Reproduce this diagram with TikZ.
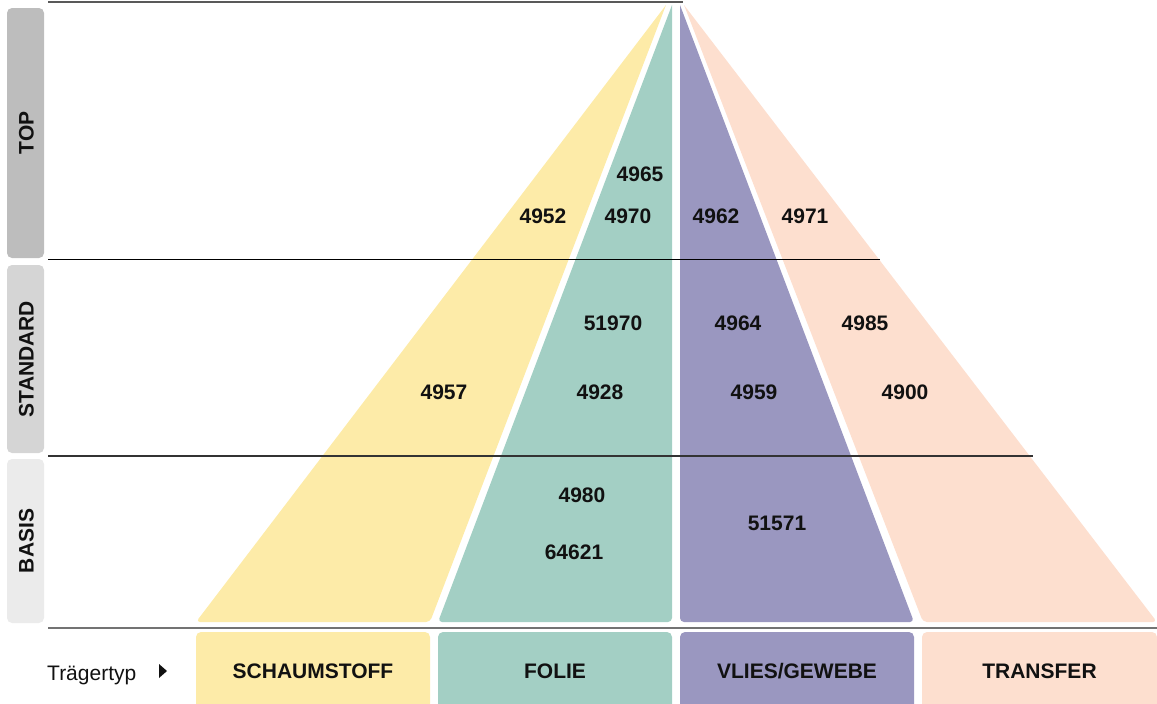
\documentclass[tikz,border=0pt]{standalone}
\usepackage{fontspec}
\setmainfont{Liberation Sans}
\usepackage{tikz}

\definecolor{schaum}{HTML}{FDEBA8}
\definecolor{folie}{HTML}{A3CFC4}
\definecolor{vlies}{HTML}{9A97C0}
\definecolor{transfer}{HTML}{FDDFCF}
\definecolor{lvTop}{HTML}{BDBDBD}
\definecolor{lvStd}{HTML}{D5D5D5}
\definecolor{lvBasis}{HTML}{EBEBEB}
\definecolor{ink}{HTML}{111111}

\begin{document}
\begin{tikzpicture}[x=1pt, y=-1pt,
    lbl/.style={font=\fontsize{21}{25}\selectfont\bfseries, text=ink, inner sep=0pt},
    lvl/.style={lbl, rotate=90}]
    \useasboundingbox (0,0) rectangle (1157,704);
    % Stufen links
    \fill[lvTop, rounded corners=5pt] (7,8) rectangle (44,258);
    \fill[lvStd, rounded corners=5pt] (7,265) rectangle (44,453);
    \fill[lvBasis, rounded corners=5pt] (7,459) rectangle (44,623);
    \node[lvl] (top) at (26.5,133) {TOP};
    \node[lvl] (standard) at (26.5,359) {STANDARD};
    \node[lvl] (basis) at (26.5,541) {BASIS};
    % Pyramide
    \fill[schaum] (666,5) [rounded corners=4pt] -- (196,622) -- (430,622) [sharp corners] -- cycle;
    \fill[folie] (672,5) [rounded corners=4pt] -- (438,622) -- (672,622) [sharp corners] -- cycle;
    \fill[vlies] (680,5) [rounded corners=4pt] -- (680,622) -- (914,622) [sharp corners] -- cycle;
    \fill[transfer] (684,5) [rounded corners=4pt] -- (923,622) -- (1157,622) [sharp corners] -- cycle;
    % Linien
    \draw[line width=1.2pt, black!65] (48,2) -- (683,2);
    \draw[line width=1pt, black] (48,259) -- (880,259);
    \draw[line width=1.2pt, black!80] (48,456) -- (1033,456);
    \draw[line width=2pt, black!55] (48,628) -- (1157,628);
    % Produkte
    \foreach \num/\x/\y in {4965/640/174, 4952/543/216, 4970/628/216, 4962/716/216,
        4971/805/216, 51970/613/323, 4964/738/323, 4985/865/323, 4957/444/392,
        4928/600/392, 4959/754/392, 4900/905/392, 4980/582/495, 51571/777/523,
        64621/574/552}
        {\node[lbl] (p\num) at (\x,\y) {\num};}
    % Traegertypen
    \foreach \xa/\xb/\col/\txt in {196/430/schaum/SCHAUMSTOFF, 438/672/folie/FOLIE,
        680/914/vlies/{VLIES/GEWEBE}, 922/1157/transfer/TRANSFER}
    {
        \fill[\col] (\xa,704) [rounded corners=5pt] -- (\xa,632) -- (\xb,632) [sharp corners] -- (\xb,704) -- cycle;
        \node[lbl, anchor=base] (t\col) at ({(\xa+\xb)/2},678) {\txt};
    }
    \node[font=\fontsize{21}{25}\selectfont, text=ink, anchor=base west, inner sep=0pt] (traeger) at (47,680) {Trägertyp};
    \fill[ink] (159,664) -- (167,671) -- (159,678) -- cycle;
\end{tikzpicture}
\end{document}
